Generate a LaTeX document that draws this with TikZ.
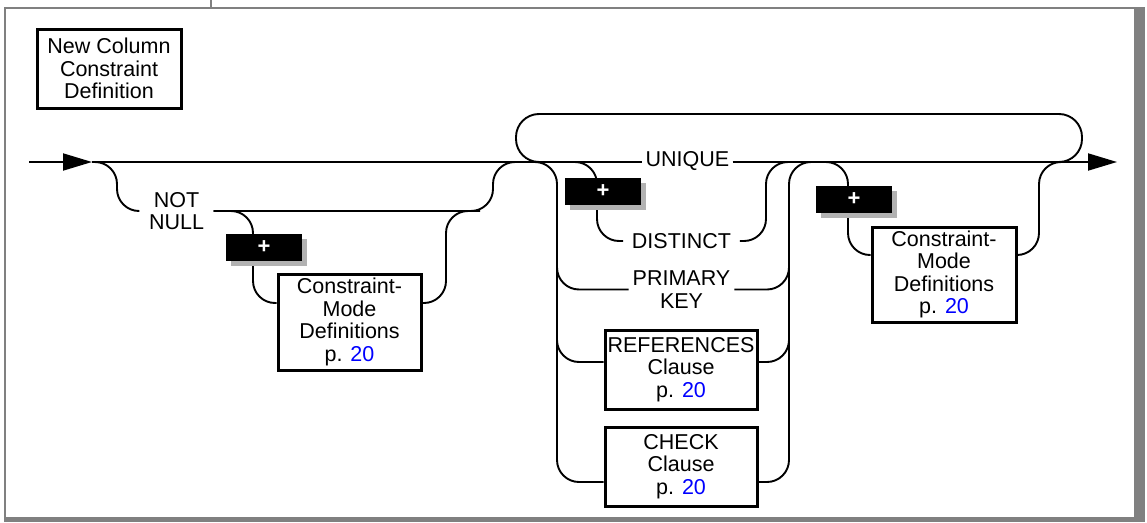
\documentclass[tikz,border=0pt]{standalone}
\usepackage{fontspec}
\setmainfont{Liberation Sans}
\usetikzlibrary{arrows.meta,shadows}
\pgfdeclarelayer{bg}
\pgfdeclarelayer{rails}
\pgfsetlayers{bg,rails,main}
\definecolor{framegray}{RGB}{128,128,128}
\definecolor{shadowgray}{RGB}{178,178,178}
\definecolor{pagelink}{RGB}{0,0,255}
\begin{document}
\begin{tikzpicture}[x=1pt,y=-1pt,
  rail/.style={line width=1.9pt, rounded corners=22pt},
  cbox/.style={draw, line width=3pt, align=center, inner sep=0pt,
    font=\fontsize{21.5}{22.5}\selectfont},
  kw/.style={align=center, inner ysep=0pt, font=\fontsize{21.5}{22.5}\selectfont},
  plusbox/.style={fill=black, text=white, minimum width=76pt, minimum height=27pt,
    inner sep=0pt, font=\fontsize{22}{22}\selectfont\bfseries,
    drop shadow={shadow xshift=5pt, shadow yshift=-5pt, fill=shadowgray, opacity=1}},
  railarrow/.style={-{Triangle[length=29pt,width=17pt]}}
]
\useasboundingbox (0,0) rectangle (1147,522);
\begin{pgfonlayer}{bg}
  \fill[white] (0,0) rectangle (1147,522);
  \fill[framegray] (4,7) rectangle (1145,522);
  \fill[white] (5.5,9) rectangle (1134,517);
  \draw[framegray, line width=1.2pt] (211,0) -- (211,7);
\end{pgfonlayer}

% nodes
\node[cbox, minimum width=144pt, minimum height=79pt] (title) at (109,68.5) {New Column\\Constraint\\Definition};
\node[kw, inner xsep=9.5pt] (nn) at (176.5,211) {NOT\\NULL};
\node[plusbox] (p1) at (264,247.5) {+};
\node[cbox, minimum width=143pt, minimum height=96pt] (cm1) at (349.5,322) {Constraint-\\Mode\\Definitions\\p. \textcolor{pagelink}{20}};
\node[kw, inner xsep=3.2pt, anchor=base] (un) at (687.5,166.5) {UNIQUE};
\node[plusbox] (p2) at (603,191) {+};
\node[kw, inner xsep=8.5pt] (dist) at (681.5,241) {DISTINCT};
\node[kw, inner xsep=4pt] (pk) at (681.5,289.5) {PRIMARY\\KEY};
\node[cbox, minimum width=152pt, minimum height=79pt] (ref) at (681,369.5) {REFERENCES\\Clause\\p. \textcolor{pagelink}{20}};
\node[cbox, minimum width=152pt, minimum height=79pt] (ck) at (681,466.5) {CHECK\\Clause\\p. \textcolor{pagelink}{20}};
\node[plusbox] (p3) at (854,199.5) {+};
\node[cbox, minimum width=144pt, minimum height=95pt] (cm2) at (944,274.5) {Constraint-\\Mode\\Definitions\\p. \textcolor{pagelink}{20}};

% rows and junctions
\coordinate (m) at (0,162);
\coordinate (in) at (29,162);
\coordinate (a1) at (92,162);
\coordinate (out) at (1117,162);
\coordinate (rC1) at (0,303);
\coordinate (rRef) at (0,362);
\coordinate (rCk) at (0,482);
\coordinate (rC2) at (0,255);

\begin{pgfonlayer}{rails}
  % main line
  \draw[rail, railarrow] (in) -- (a1);
  \draw[rail] (a1) -- (un.west |- m);
  \draw[rail, railarrow] (un.east |- m) -- (out);
  % NOT NULL
  \draw[rail] (a1) -- (117,162) -- (117,211) -- (nn.west);
  \draw[rail] (nn.east) -- (493,211) -- (493,162) -- (530,162);
  \draw[rail] (nn.east) -- (253,211) -- (253,303) -- (cm1.west |- rC1);
  \draw[rail] (cm1.east |- rC1) -- (446,303) -- (446,211) -- (480,211);
  % top bypass
  \draw[rail, rounded corners=23pt] (545,162) -- (516,162) -- (516,114) -- (1082,114) -- (1082,162) -- (1055,162);
  % group left rail
  \draw[rail] (525,162) -- (557,162) -- (557,482) -- (ck.west |- rCk);
  \draw[rail] (557,260) -- (557,289.5) -- (pk.west);
  \draw[rail] (557,330) -- (557,362) -- (ref.west |- rRef);
  % group right rail
  \draw[rail] (ck.east |- rCk) -- (789,482) -- (789,162) -- (820,162);
  \draw[rail] (pk.east) -- (789,289.5) -- (789,260);
  \draw[rail] (ref.east |- rRef) -- (789,362) -- (789,330);
  % DISTINCT
  \draw[rail] (560,162) -- (597,162) -- (597,241) -- (dist.west);
  \draw[rail] (dist.east) -- (766,241) -- (766,162) -- (800,162);
  % constraint mode after group
  \draw[rail] (815,162) -- (848,162) -- (848,255) -- (cm2.west |- rC2);
  \draw[rail] (cm2.east |- rC2) -- (1039,255) -- (1039,162) -- (1070,162);
\end{pgfonlayer}
\end{tikzpicture}
\end{document}
